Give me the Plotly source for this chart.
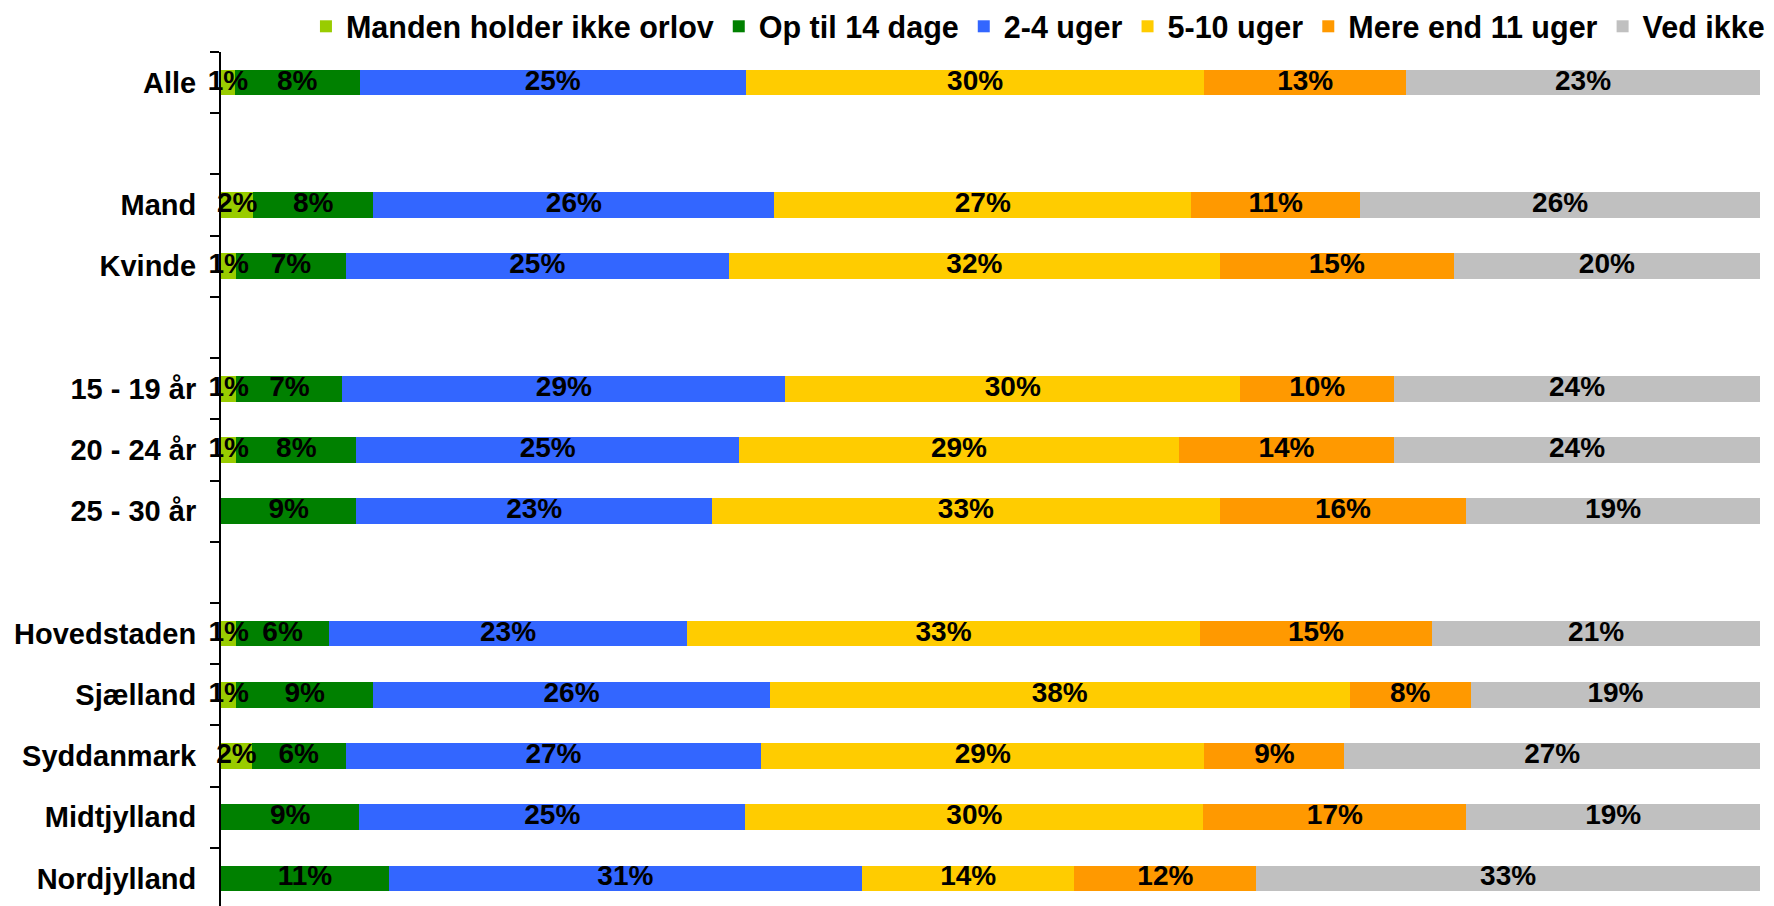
import plotly.graph_objects as go

categories = ["Alle", " ", "Mand", "Kvinde", "  ", "15 - 19 år", "20 - 24 år", "25 - 30 år",
              "   ", "Hovedstaden", "Sjælland", "Syddanmark", "Midtjylland", "Nordjylland"]
bar_categories = ["Alle", "Mand", "Kvinde", "15 - 19 år", "20 - 24 år", "25 - 30 år",
                  "Hovedstaden", "Sjælland", "Syddanmark", "Midtjylland", "Nordjylland"]

series_names = ["Manden holder ikke orlov", "Op til 14 dage", "2-4 uger", "5-10 uger",
                "Mere end 11 uger", "Ved ikke"]
colors = ["#99CC00", "#008000", "#3366FF", "#FFCC00", "#FF9900", "#C0C0C0"]

# values (%) per category, in bar_categories order
manden_ikke = [0.9, 2.1, 1.0, 1.0, 1.0, 0.0, 1.0, 1.0, 2.0, 0.0, 0.0]
op_til_14 = [8.1, 7.8, 7.1, 6.9, 7.8, 8.8, 6.0, 8.9, 6.1, 9.0, 10.9]
uger_2_4 = [25.1, 26.1, 24.9, 28.8, 24.9, 23.1, 23.3, 25.8, 27.0, 25.1, 30.7]
uger_5_10 = [29.8, 27.1, 31.9, 29.6, 28.6, 33.0, 33.3, 37.7, 28.8, 29.8, 13.8]
mere_11 = [13.1, 11.0, 15.2, 10.0, 14.0, 16.0, 15.1, 7.9, 9.1, 17.1, 11.8]
ved_ikke = [23.0, 26.0, 19.9, 23.8, 23.8, 19.1, 21.3, 18.8, 27.0, 19.1, 32.7]

series = [manden_ikke, op_til_14, uger_2_4, uger_5_10, mere_11, ved_ikke]

# normalise each row to 100 %
totals = [sum(s[i] for s in series) for i in range(len(bar_categories))]
norm = [[s[i] / totals[i] * 100 for i in range(len(bar_categories))] for s in series]

FONT = "Liberation Sans, Arial, Helvetica, sans-serif"

fig = go.Figure()
for name, vals, col in zip(series_names, norm, colors):
    fig.add_trace(go.Bar(
        y=bar_categories, x=vals, name=name, orientation="h",
        marker=dict(color=col, line=dict(width=0)),
        hoverinfo="skip",
    ))

# labels drawn on top of all bars
cum = [0.0] * len(bar_categories)
for raw, vals in zip(series, norm):
    xs, ys, ts = [], [], []
    for i, v in enumerate(vals):
        if raw[i] > 0:
            xs.append(cum[i] + v / 2)
            ys.append(bar_categories[i])
            ts.append(f"{raw[i]:.0f}%")
        cum[i] += v
    fig.add_trace(go.Scatter(
        x=xs, y=ys, text=ts, mode="text", showlegend=False, cliponaxis=False,
        textfont=dict(family=FONT, size=28, color="black", weight="bold"),
        hoverinfo="skip",
    ))

fig.update_layout(
    width=1774, height=906,
    margin=dict(l=221, r=14, t=52, b=0, autoexpand=False),
    barmode="stack", bargap=0.58,
    plot_bgcolor="white", paper_bgcolor="white",
    font=dict(family=FONT, color="black", weight="bold"),
    legend=dict(
        orientation="h", traceorder="normal",
        x=0.0552, xanchor="left", y=1.0299, yanchor="middle",
        font=dict(family=FONT, size=30.5, color="black", weight="bold"),
        bgcolor="rgba(0,0,0,0)",
    ),
    xaxis=dict(range=[0, 100], visible=False, showgrid=False),
    yaxis=dict(
        type="category", categoryorder="array", categoryarray=categories,
        range=[13.45, -0.5], tickson="boundaries",
        ticks="outside", ticklen=9, tickwidth=2, tickcolor="black",
        showline=True, linewidth=2, linecolor="black",
        showgrid=False, ticklabelstandoff=17,
        tickfont=dict(family=FONT, size=29, color="black", weight="bold"),
    ),
)

fig.write_html("out.html", config={"displayModeBar": False},
               post_script="document.body.style.margin='0';document.body.style.overflow='hidden';")
